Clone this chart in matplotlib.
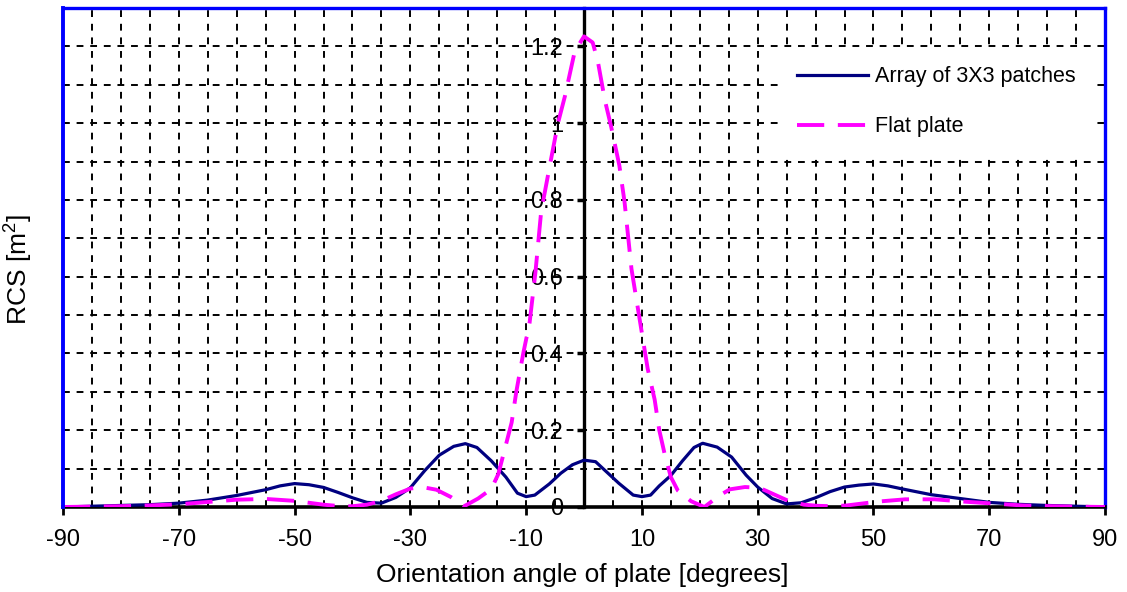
import numpy as np
import matplotlib
matplotlib.use('Agg')
import matplotlib.pyplot as plt
from matplotlib.ticker import MultipleLocator

plt.rcParams['font.family'] = ['Liberation Sans', 'DejaVu Sans']
plt.rcParams['mathtext.fontset'] = 'custom'
plt.rcParams['mathtext.rm'] = 'Liberation Sans'
plt.rcParams['mathtext.default'] = 'regular'
plt.rcParams['axes.unicode_minus'] = False

# Array of 3X3 patches
ang_array = [-90, -85, -80, -75, -70, -65, -60, -55, -52.5, -50, -47.5, -45, -42.5, -40,
             -37.5, -35, -32.5, -30, -27.5, -25, -22.5, -20.5, -18.5, -16, -13.5, -11.5,
             -10, -8.5, -6, -4, -2, 0, 2, 4, 6, 8.5, 10, 11.5, 13, 15, 17, 19, 20.5, 23,
             25.5, 28, 30, 32.5, 35, 37.5, 40, 42.5, 45, 47.5, 50, 52.5, 55, 60, 65, 70,
             75, 80, 85, 90]
rcs_array = [0, 0.002, 0.004, 0.006, 0.01, 0.018, 0.03, 0.045, 0.055, 0.061, 0.058, 0.051,
             0.038, 0.024, 0.012, 0.01, 0.025, 0.05, 0.095, 0.135, 0.158, 0.165, 0.155,
             0.12, 0.078, 0.036, 0.027, 0.031, 0.06, 0.088, 0.11, 0.122, 0.118, 0.09,
             0.062, 0.031, 0.027, 0.031, 0.055, 0.082, 0.12, 0.155, 0.166, 0.156, 0.13,
             0.083, 0.052, 0.022, 0.008, 0.011, 0.024, 0.04, 0.052, 0.057, 0.06, 0.055,
             0.047, 0.032, 0.022, 0.012, 0.007, 0.004, 0.002, 0]

# Flat plate
ang_plate = [-90, -85, -80, -75, -70, -65, -60, -55, -50, -45, -42, -40, -37.5, -35, -32.5,
             -30, -28, -25.5, -23, -20.7, -18.3, -16, -14.8, -13.7, -12.5, -11.7, -10.5,
             -9.4, -8.4, -7.4, -5.9, -4.5, -3.3, -1.6, 0, 1.5, 2.4, 3.6, 4.7, 6.1, 7.0,
             8.2, 9.6, 11, 12.2, 13, 13.9, 15, 16.2, 18.5, 20.8, 23.3, 25.2, 27.8, 30.3,
             32.8, 35.3, 38, 40.4, 43, 45.4, 50.7, 55.5, 60.6, 65.6, 70.7, 75.7, 80.8,
             85, 90]
rcs_plate = [0, 0.001, 0.002, 0.004, 0.007, 0.013, 0.019, 0.021, 0.016, 0.006, 0.002, 0.002,
             0.006, 0.016, 0.033, 0.048, 0.052, 0.045, 0.026, 0.002, 0.022, 0.047, 0.086,
             0.15, 0.22, 0.30, 0.40, 0.48, 0.61, 0.77, 0.89, 1.0, 1.07, 1.187, 1.226,
             1.21, 1.16, 1.06, 0.99, 0.89, 0.795, 0.62, 0.49, 0.36, 0.28, 0.2, 0.14,
             0.078, 0.043, 0.015, 0.0, 0.029, 0.046, 0.052, 0.05, 0.033, 0.016, 0.006,
             0.003, 0.002, 0.004, 0.014, 0.02, 0.02, 0.014, 0.009, 0.004, 0.002, 0.001, 0]

x_ticks = [-90, -70, -50, -30, -10, 10, 30, 50, 70, 90]
y_ticks = [0, 0.2, 0.4, 0.6, 0.8, 1.0, 1.2]
y_labels = ['0', '0.2', '0.4', '0.6', '0.8', '1', '1.2']

fig = plt.figure(figsize=(11.27, 5.92), dpi=100)
ax = fig.add_axes([0.0559, 0.1436, 0.9246, 0.8429])

ax.plot(ang_array, rcs_array, color='#000080', lw=2.3, label='Array of 3X3 patches', zorder=3)
ax.plot(ang_plate, rcs_plate, color='#FF00FF', lw=2.8, dashes=(7, 3.5), label='Flat plate', zorder=3)

ax.set_xlim(-90, 90)
ax.set_ylim(0, 1.3)
ax.set_xticks(x_ticks)
ax.set_yticks(y_ticks)
ax.set_yticklabels(y_labels)
ax.xaxis.set_minor_locator(MultipleLocator(5))
ax.yaxis.set_minor_locator(MultipleLocator(0.1))
ax.grid(True, which='both', color='black', lw=1.4, dashes=(3.5, 3.5))
ax.set_axisbelow(True)

# y axis crosses at 0, blue frame around
ax.spines['left'].set_position(('data', 0))
ax.spines['left'].set_color('black')
ax.spines['left'].set_linewidth(2.4)
ax.spines['bottom'].set_color('black')
ax.spines['bottom'].set_linewidth(2.6)
for s in ['top', 'right']:
    ax.spines[s].set_color('#0000FF')
    ax.spines[s].set_linewidth(2.4)
ax.axvline(-90, color='#0000FF', lw=2.8, clip_on=False, zorder=4)

ax.tick_params(axis='x', which='major', direction='out', length=6, width=2, labelsize=17, pad=10)
ax.tick_params(axis='y', which='major', direction='out', length=5, width=2.5, labelsize=17, pad=10)
ax.tick_params(which='minor', length=0)

ax.set_xlabel('Orientation angle of plate [degrees]', fontsize=19)
ax.xaxis.set_label_coords(0.498, -0.113)
ax.set_ylabel('RCS [m$^2$]', fontsize=19)
ax.yaxis.set_label_coords(-0.027, 0.475)

leg = ax.legend(loc='upper left', bbox_to_anchor=(0.688, 0.918), borderaxespad=0,
                fontsize=15.5, handlelength=3.3, handletextpad=0.3, labelspacing=1.35,
                frameon=True, fancybox=False, framealpha=1, facecolor='white', edgecolor='none',
                borderpad=0.8)

plt.savefig('out.png', dpi=100)
